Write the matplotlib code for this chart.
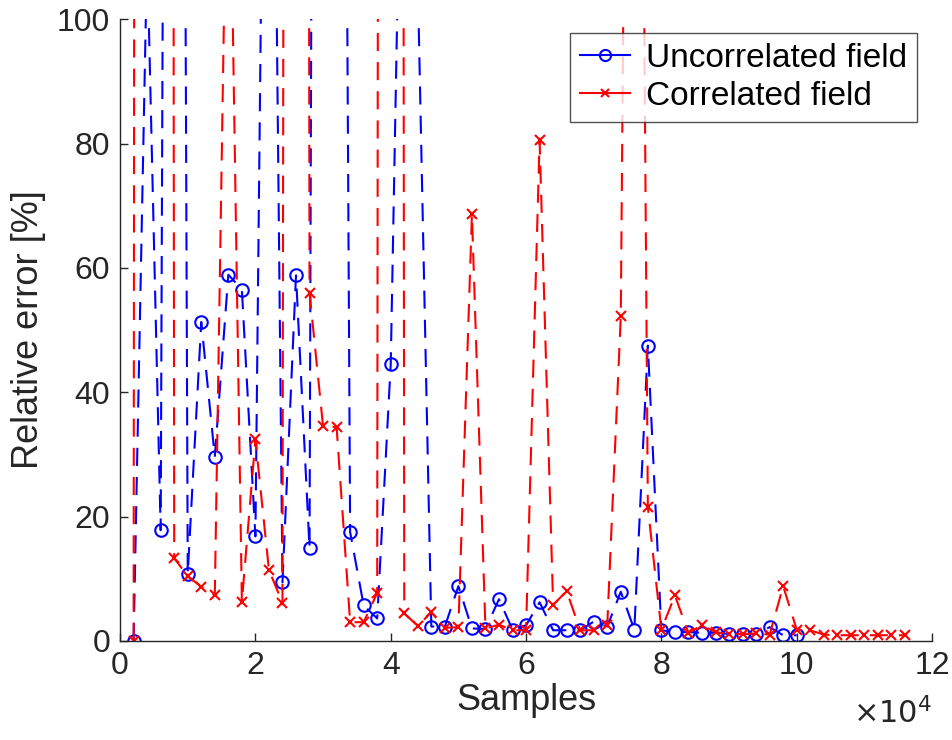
import numpy as np
import matplotlib
matplotlib.use('Agg')
import matplotlib.pyplot as plt
from matplotlib.lines import Line2D

# sample counts (every 2000 samples)
samples_unc = np.arange(2000, 100001, 2000)
samples_cor = np.arange(2000, 116001, 2000)

# relative error [%] (values above 100 run off the top)
err_unc = [0, 111, 17.8, 580, 10.8, 51.3, 29.6, 58.9, 56.5, 16.8,
           225, 9.4, 58.8, 14.9, 690, 410, 17.5, 5.7, 3.6, 44.5,
           162, 106, 2.3, 2.3, 8.8, 2.0, 1.9, 6.7, 1.8, 2.5,
           6.2, 1.7, 1.7, 1.7, 3.1, 2.3, 7.9, 1.8, 47.5, 1.7,
           1.4, 1.4, 1.3, 1.3, 1.1, 1.1, 1.1, 2.2, 0.9, 0.9]
err_cor = [0, 2500, 2000, 13.3, 10.4, 8.7, 7.3, 145, 6.3, 32.4,
           11.4, 6.1, 1500, 56.0, 34.5, 34.4, 3.0, 3.0, 7.7, 2000,
           4.4, 2.4, 4.6, 2.1, 2.2, 68.6, 2.0, 2.6, 1.7, 1.7,
           80.5, 5.8, 8.0, 1.7, 1.7, 2.5, 52.2, 318, 21.5, 1.8,
           7.3, 1.3, 2.5, 1.4, 1.1, 1.1, 1.2, 1.0, 8.8, 1.8,
           1.7, 1.0, 0.9, 0.9, 0.9, 0.9, 0.9, 0.9]

xticks = np.arange(0, 120001, 20000)
xticklabels = ['0', '2', '4', '6', '8', '10', '12']
yticks = [0, 20, 40, 60, 80, 100]

plt.rcParams['font.family'] = ['Liberation Sans', 'DejaVu Sans']
plt.rcParams['lines.scale_dashes'] = False
axcol = '#262626'

fig = plt.figure(figsize=(9.53, 7.4), dpi=100)
ax = fig.add_axes([0.126, 0.134, 0.852, 0.840])

ax.plot(samples_unc, err_unc, color='blue', linestyle=(0, (13, 8)), linewidth=1.5,
        marker='o', markersize=9, markerfacecolor='none', markeredgewidth=1.5)
ax.plot(samples_cor, err_cor, color='red', linestyle=(0, (13, 8)), linewidth=1.5,
        marker='x', markersize=7, markeredgewidth=1.5)

ax.set_xlim(0, 120000)
ax.set_ylim(0, 100)
ax.set_xticks(xticks)
ax.set_xticklabels(xticklabels)
ax.set_yticks(yticks)

for s in ['top', 'right']:
    ax.spines[s].set_visible(False)
for s in ['left', 'bottom']:
    ax.spines[s].set_color(axcol)
    ax.spines[s].set_linewidth(1.0)
ax.tick_params(direction='in', length=6, width=1.0, colors=axcol,
               labelsize=23, labelcolor=axcol, pad=7)

ax.set_xlabel('Samples', fontsize=26, color=axcol, labelpad=2)
ax.set_ylabel('Relative error [%]', fontsize=26, color=axcol, labelpad=8)
fig.text(0.895, 0.035, r'$\times10^4$', fontsize=22, color=axcol,
         ha='left', va='center')

handles = [
    Line2D([], [], color='blue', linewidth=1.5, marker='o', markersize=8,
           markerfacecolor='none', markeredgewidth=1.5),
    Line2D([], [], color='red', linewidth=1.5, marker='x', markersize=6,
           markeredgewidth=1.5),
]
leg = ax.legend(handles, ['Uncorrelated field', 'Correlated field'],
                loc='upper right', bbox_to_anchor=(0.982, 0.978), fontsize=24,
                frameon=True, fancybox=False, handlelength=1.5,
                handletextpad=0.5, borderpad=0.3, labelspacing=0.2,
                borderaxespad=0)
leg.get_frame().set_edgecolor(axcol)
leg.get_frame().set_linewidth(1.0)

fig.savefig('out.png', dpi=100)
